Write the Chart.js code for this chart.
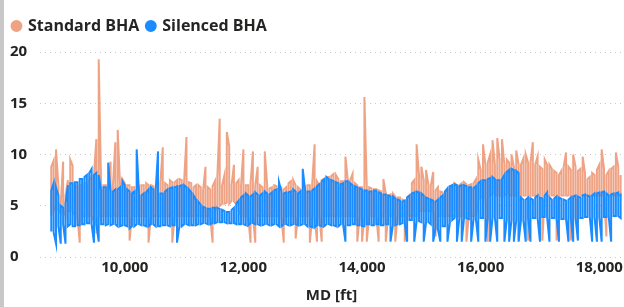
<!DOCTYPE html>
<html><head><meta charset="utf-8">
<script src="https://cdn.jsdelivr.net/npm/chart.js@4/dist/chart.umd.min.js"></script>
<style>
html,body{margin:0;padding:0;background:#fff;}
#wrap{position:relative;width:624px;height:307px;overflow:hidden;}
#bar{position:absolute;left:0;top:0;width:4px;height:307px;background:#c8c8c8;}
canvas{position:absolute;left:0;top:0;}
</style></head><body>
<div id="wrap"><canvas id="c" width="624" height="307"></canvas><div id="bar"></div></div>
<script>
// Measured depth (ft) of each depth bin
const md = [
8760,8800,8840,8880,8920,8960,9000,9040,9080,9120,
9160,9200,9240,9280,9320,9360,9400,9440,9480,9520,
9560,9600,9640,9680,9720,9760,9800,9840,9880,9920,
9960,10000,10040,10080,10120,10160,10200,10240,10280,10320,
10360,10400,10440,10480,10520,10560,10600,10640,10680,10720,
10760,10800,10840,10880,10920,10960,11000,11040,11080,11120,
11160,11200,11240,11280,11320,11360,11400,11440,11480,11520,
11560,11600,11640,11680,11720,11760,11800,11840,11880,11920,
11960,12000,12040,12080,12120,12160,12200,12240,12280,12320,
12360,12400,12440,12480,12520,12560,12600,12640,12680,12720,
12760,12800,12840,12880,12920,12960,13000,13040,13080,13120,
13160,13200,13240,13280,13320,13360,13400,13440,13480,13520,
13560,13600,13640,13680,13720,13760,13800,13840,13880,13920,
13960,14000,14040,14080,14120,14160,14200,14240,14280,14320,
14360,14400,14440,14480,14520,14560,14600,14640,14680,14720,
14760,14800,14840,14880,14920,14960,15000,15040,15080,15120,
15160,15200,15240,15280,15320,15360,15400,15440,15480,15520,
15560,15600,15640,15680,15720,15760,15800,15840,15880,15920,
15960,16000,16040,16080,16120,16160,16200,16240,16280,16320,
16360,16400,16440,16480,16520,16560,16600,16640,16680,16720,
16760,16800,16840,16880,16920,16960,17000,17040,17080,17120,
17160,17200,17240,17280,17320,17360,17400,17440,17480,17520,
17560,17600,17640,17680,17720,17760,17800,17840,17880,17920,
17960,18000,18040,18080,18120,18160,18200,18240,18280,18320,
18360
];

// Standard BHA: per-bin max and min
const standardHigh = [
8.8,9.4,10.5,7.0,5.2,9.3,6.0,7.5,9.5,8.9,
7.0,6.8,7.0,7.0,7.2,7.2,7.5,7.8,8.0,11.5,
19.3,7.2,7.0,7.0,6.8,9.3,7.0,11.2,12.4,7.0,
7.6,7.2,7.0,7.0,6.8,6.8,6.5,6.8,7.0,7.0,
7.2,7.0,7.0,6.9,6.8,7.0,7.3,10.7,7.2,7.0,
7.5,7.3,7.3,7.5,7.6,7.5,7.4,11.7,7.3,7.2,
6.8,7.0,7.0,6.8,6.5,8.8,6.8,6.6,6.9,7.4,
7.8,13.5,7.0,8.0,12.2,10.8,7.0,9.0,7.2,7.5,
7.0,10.5,7.0,7.0,7.2,10.3,7.0,8.8,7.0,6.8,
10.3,7.0,6.7,6.8,7.0,6.9,6.9,6.8,6.6,6.8,
7.2,7.4,7.5,7.0,6.8,6.6,6.5,6.8,7.0,7.0,
7.2,11.0,7.4,7.0,7.5,7.6,7.8,7.8,7.9,8.1,
8.0,7.6,7.4,7.4,9.8,7.5,7.5,8.1,7.2,7.0,
6.8,6.8,15.6,6.8,6.8,6.7,6.6,6.6,6.5,6.4,
7.6,6.2,6.0,6.1,6.2,5.9,5.8,5.8,5.6,5.5,
5.8,6.0,7.2,7.5,11.0,8.0,8.8,7.5,8.5,7.0,
7.0,8.3,6.5,6.8,6.4,6.3,6.4,6.5,6.8,7.0,
7.2,7.0,7.0,7.2,7.3,7.1,7.0,7.1,7.2,7.6,
9.5,8.5,11.0,9.0,9.2,10.0,11.4,9.0,11.6,9.5,
11.5,9.0,9.5,9.2,10.0,8.8,10.4,9.0,9.0,9.6,
10.0,9.2,9.2,11.2,9.0,9.8,8.8,8.6,9.5,9.0,
9.0,8.6,8.4,8.2,8.0,8.4,8.8,10.2,8.8,8.5,
10.0,8.8,8.4,8.6,9.8,8.2,7.6,7.8,8.2,8.0,
8.5,9.0,10.5,8.6,8.0,8.4,8.6,8.8,10.2,8.8,
8.0
];
const standardLow = [
4.0,4.5,5.0,4.6,4.3,4.5,4.0,4.5,4.5,4.5,
4.0,4.0,1.4,4.0,4.0,4.0,4.0,4.0,3.5,2.3,
4.0,4.0,4.0,4.0,4.0,4.0,4.0,4.0,4.0,4.0,
4.0,4.0,4.0,1.6,4.0,4.0,4.0,4.0,4.0,4.0,
4.0,1.4,4.0,4.0,4.0,4.0,4.0,4.0,4.0,4.0,
4.0,1.4,4.0,4.0,4.0,4.0,4.0,4.0,4.0,4.0,
4.0,4.0,4.0,4.0,4.0,4.0,4.0,4.0,1.4,4.5,
5.0,5.0,5.2,5.2,5.3,5.2,5.5,5.4,5.2,4.5,
4.0,4.0,4.0,4.0,1.4,4.0,1.4,4.0,4.0,4.0,
4.0,4.0,4.0,4.0,4.0,4.0,4.0,4.0,1.4,4.0,
4.0,4.0,4.0,1.8,4.0,4.0,4.0,4.0,4.0,1.4,
4.0,4.0,1.5,4.0,1.5,4.0,4.0,4.0,4.0,4.0,
4.0,4.0,4.0,4.0,4.0,4.0,4.0,4.0,4.0,1.5,
4.0,1.5,4.0,1.5,4.0,4.0,4.0,4.0,1.5,4.0,
4.0,1.5,4.0,4.0,4.0,1.5,4.0,4.0,4.0,1.5,
4.0,4.0,4.0,4.0,4.0,4.5,4.5,4.5,4.5,4.5,
4.5,4.5,2.0,4.0,4.0,4.0,4.0,4.0,4.0,4.0,
4.0,4.0,4.0,4.0,4.0,1.5,4.0,4.0,4.0,4.0,
5.5,5.8,6.0,5.8,1.5,6.0,6.2,6.0,6.0,6.0,
6.0,6.0,6.2,6.0,6.0,6.0,6.0,1.6,6.0,6.0,
6.0,1.6,6.0,6.0,6.0,6.0,6.0,1.6,6.0,6.0,
6.0,6.0,6.0,1.6,6.0,6.0,6.0,6.0,6.0,1.6,
6.0,6.0,2.5,6.0,6.0,6.0,6.0,6.0,6.0,6.0,
6.0,6.0,6.0,6.0,2.0,6.0,6.0,6.0,6.0,6.0,
6.0
];

// Silenced BHA: per-bin max and min
const silencedHigh = [
6.5,7.2,6.8,6.0,5.0,4.8,5.2,7.0,7.2,7.2,
7.3,7.3,7.6,7.6,7.8,8.0,8.2,8.6,8.0,8.2,
8.0,6.5,6.8,6.8,9.2,6.4,6.4,6.6,6.6,6.8,
7.4,7.0,6.6,6.4,6.2,6.4,10.5,6.2,6.0,6.2,
6.3,6.6,6.8,6.6,6.5,10.3,6.2,6.2,6.4,6.6,
6.7,6.8,6.8,6.9,6.9,7.0,7.0,6.8,6.6,6.3,
6.0,5.6,5.4,5.1,4.9,4.8,4.7,4.7,4.8,4.8,
4.8,4.7,4.6,4.5,4.4,4.4,4.6,4.8,5.2,5.5,
5.8,6.0,6.2,6.0,5.9,6.1,6.3,6.1,6.0,6.2,
6.4,6.2,6.1,6.3,6.5,6.6,7.3,6.4,6.2,6.3,
6.3,6.4,6.6,6.4,6.2,6.4,8.6,6.5,6.4,6.4,
6.5,6.7,6.9,7.1,7.4,7.6,7.8,7.6,7.5,7.4,
7.3,7.2,7.1,7.2,7.4,7.4,7.2,7.0,6.9,6.8,
6.7,6.6,6.5,6.5,6.4,6.4,6.5,6.5,6.3,6.2,
6.1,6.1,6.0,5.9,5.9,5.7,5.6,5.5,5.4,5.5,
5.8,6.0,6.2,6.3,6.4,6.3,6.2,6.0,5.8,5.7,
5.6,5.5,5.4,5.6,5.8,6.0,6.4,6.7,6.9,7.0,
7.1,7.0,6.9,7.0,7.0,6.9,6.8,6.8,6.7,6.9,
7.2,7.4,7.5,7.5,7.6,7.7,7.8,7.6,7.5,7.5,
7.6,8.0,8.3,8.5,8.6,8.5,8.4,8.2,5.8,5.6,
5.6,5.8,5.7,5.6,5.8,6.0,5.8,5.7,6.0,6.3,
5.8,5.6,5.7,5.9,5.8,5.7,5.6,5.5,5.6,5.8,
5.9,6.0,5.9,5.8,6.0,6.1,6.0,5.9,6.0,6.2,
6.2,6.3,6.3,6.4,6.2,6.0,6.1,6.2,6.2,6.3,
6.2
];
const silencedLow = [
2.5,2.4,1.3,3.0,1.3,3.2,1.3,3.0,3.2,3.0,
3.0,3.1,3.1,3.2,3.2,3.3,3.3,3.2,1.4,3.2,
1.5,3.2,3.2,3.1,3.2,3.1,3.2,3.2,3.0,3.0,
3.1,3.1,3.0,2.8,3.0,3.0,3.2,3.2,3.1,3.1,
3.0,3.0,3.2,3.2,3.0,3.0,3.0,3.1,3.1,3.1,
3.0,3.1,3.1,1.4,3.0,3.0,3.2,3.2,3.1,3.1,
3.1,3.1,3.2,3.2,3.3,3.3,3.2,3.2,3.3,3.3,
3.4,3.4,3.4,3.4,3.3,3.3,3.3,3.3,3.2,3.2,
3.2,3.2,3.1,3.1,3.3,3.3,3.2,3.2,3.1,3.1,
3.2,3.2,3.1,3.1,3.2,3.2,3.0,3.0,3.2,3.2,
3.1,3.1,3.2,3.2,3.1,3.1,3.2,3.2,3.0,3.0,
2.9,2.9,3.1,3.1,3.0,3.0,3.2,3.2,3.1,3.1,
3.0,3.0,3.2,3.2,1.5,3.1,3.1,3.2,3.2,3.1,
3.1,3.0,3.0,3.2,3.2,3.1,3.1,3.2,3.2,3.1,
3.1,3.2,3.2,1.5,3.1,3.1,3.2,3.2,3.3,3.3,
1.5,3.6,3.6,1.5,3.5,3.5,3.4,1.5,3.4,3.4,
3.2,1.5,2.8,2.7,1.5,3.0,3.0,1.5,3.3,3.6,
3.8,1.5,3.8,1.5,3.8,3.8,3.7,1.5,3.7,3.7,
1.5,3.8,3.8,1.5,3.8,1.5,3.8,3.8,1.5,3.8,
3.8,1.5,3.6,1.5,3.6,1.5,3.6,1.5,3.6,3.6,
1.5,3.8,1.5,3.8,3.8,3.8,1.5,3.9,3.9,3.9,
1.5,3.8,3.8,3.8,1.5,3.7,3.7,3.7,1.5,3.8,
1.5,3.8,1.6,3.8,3.8,3.9,3.9,3.9,1.5,3.9,
1.5,3.9,1.5,3.9,3.9,3.9,1.5,4.0,4.0,4.0,
3.8
];

const xTicks = [10000, 12000, 14000, 16000, 18000];
const yTicks = [0, 5, 10, 15, 20];

// Trace each bin as a vertical stroke from min to max (alternating direction)
function binTrace(low, high) {
  const pts = [];
  md.forEach((x, i) => {
    if (i % 2 === 0) { pts.push({ x, y: low[i] }, { x, y: high[i] }); }
    else { pts.push({ x, y: high[i] }, { x, y: low[i] }); }
  });
  return pts;
}

const TEXT = '#252423';
const FONT = "'Open Sans', 'Noto Sans', sans-serif";

const legendSpacer = {
  id: 'legendSpacer',
  beforeLayout(chart) {
    const lg = chart.legend;
    if (lg && !lg._spaced) {
      const origFit = lg.fit;
      lg.fit = function () { origFit.call(this); this.height += 8; };
      lg._spaced = true;
    }
  },
  afterLayout(chart) {
    const lg = chart.legend;
    if (lg) { lg.left -= 5; lg.right -= 5; }
  }
};

new Chart(document.getElementById('c'), {
  type: 'line',
  data: {
    datasets: [
      { label: 'Standard BHA', data: binTrace(standardLow, standardHigh), borderColor: '#EFA385', backgroundColor: '#EFA385',
        borderWidth: 2, pointRadius: 0, tension: 0, order: 1, pointStyle: 'circle' },
      { label: 'Silenced BHA', data: binTrace(silencedLow, silencedHigh), borderColor: '#1A8CFF', backgroundColor: '#1A8CFF',
        borderWidth: 2, pointRadius: 0, tension: 0, order: 0, pointStyle: 'circle' }
    ]
  },
  plugins: [legendSpacer],
  options: {
    responsive: false,
    animation: false,
    locale: 'en-US',
    layout: { padding: { left: 10, right: 1, top: 10, bottom: 2 } },
    plugins: {
      legend: {
        position: 'top', align: 'start',
        labels: { usePointStyle: true, pointStyle: 'circle', boxWidth: 7, boxHeight: 7, padding: 8,
          sort: (a, b) => a.datasetIndex - b.datasetIndex,
          color: TEXT, font: { family: FONT, size: 16, weight: 'bold' } }
      },
      tooltip: { enabled: false }
    },
    scales: {
      x: {
        type: 'linear', min: 8570, max: 18400,
        afterBuildTicks: s => { s.ticks = xTicks.map(v => ({ value: v })); },
        afterFit: s => { s.paddingLeft = 0; s.paddingRight = 0; },
        grid: { display: false, drawTicks: false },
        border: { display: false },
        ticks: { color: TEXT, font: { family: FONT, size: 15, weight: 'bold' }, padding: 2, maxRotation: 0 },
        title: { display: true, text: 'MD [ft]', color: TEXT, font: { family: FONT, size: 15, weight: 'bold' }, padding: { top: 8, bottom: 0 } }
      },
      y: {
        min: 0, max: 20,
        afterBuildTicks: s => { s.ticks = yTicks.map(v => ({ value: v })); },
        afterFit: s => { s.width = 30; },
        grid: { color: '#c8c8c8', lineWidth: 1, drawTicks: false },
        border: { display: false, dash: [1, 4] },
        ticks: { color: TEXT, font: { family: FONT, size: 15, weight: 'bold' }, crossAlign: 'far', padding: 8 }
      }
    }
  }
});
</script>
</body></html>
